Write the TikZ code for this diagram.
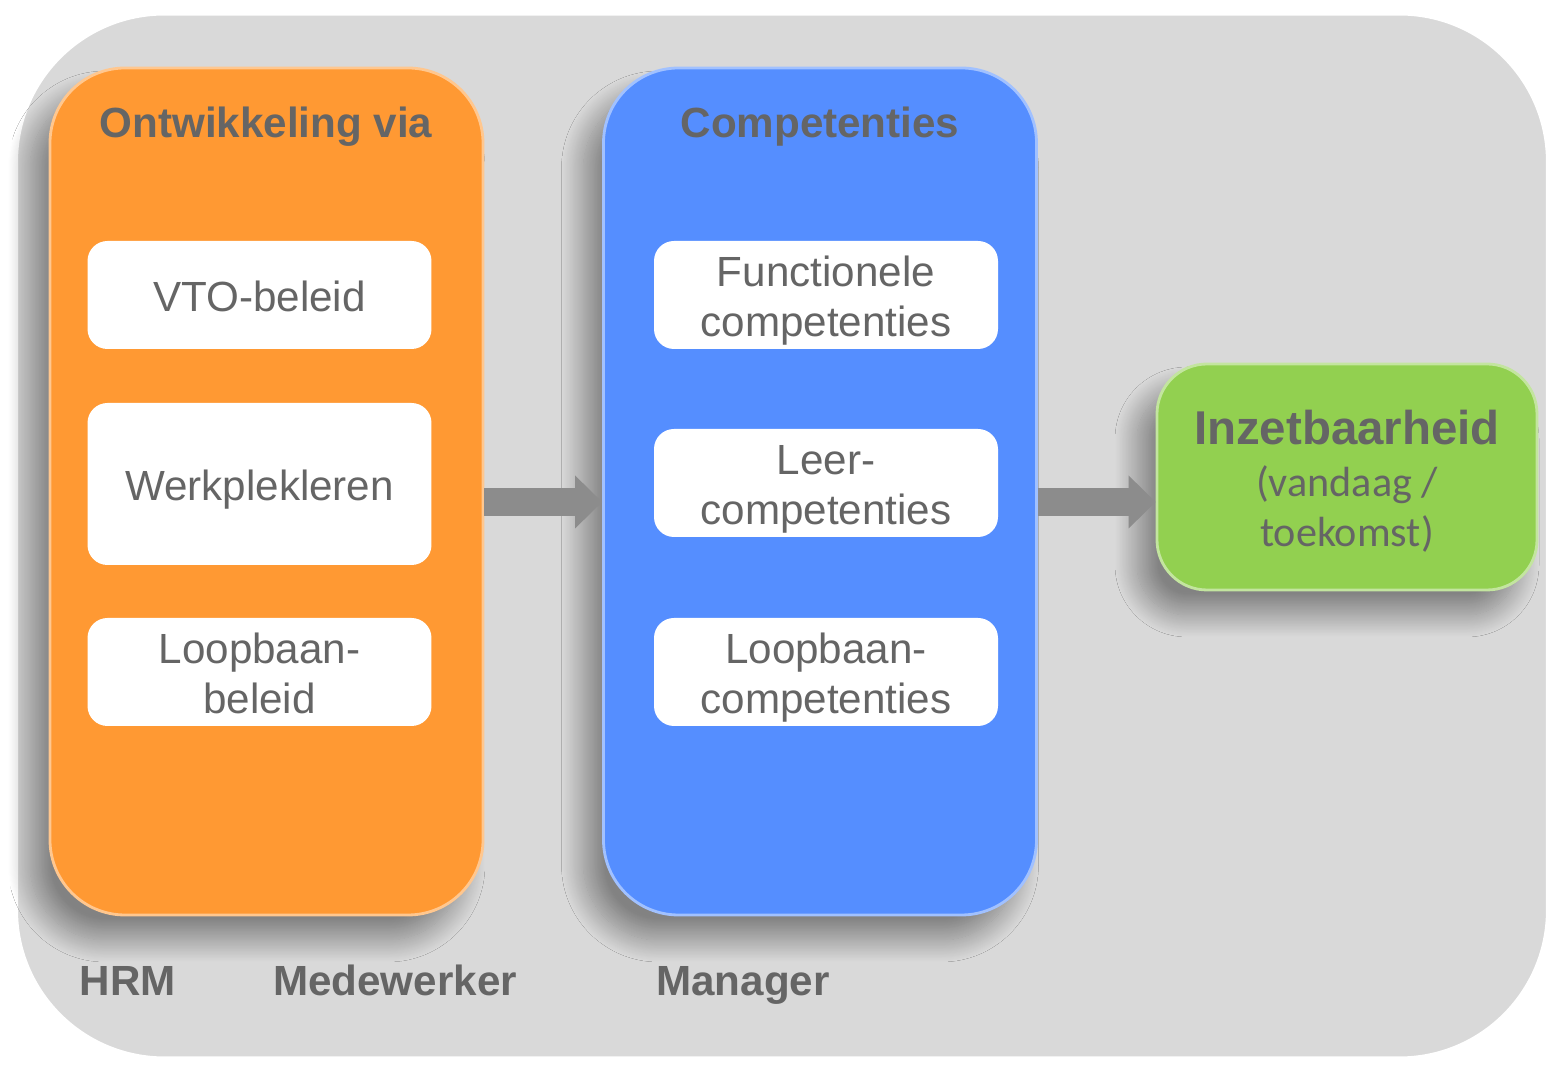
\documentclass[tikz,border=0pt]{standalone}
\usepackage{fontspec}
\setmainfont{Liberation Sans}
\newfontfamily\calibri{Carlito}
\usetikzlibrary{arrows.meta,shadows.blur}

\definecolor{txtgray}{HTML}{656565}
\definecolor{bggray}{HTML}{D9D9D9}
\definecolor{hrmorange}{HTML}{FF9933}
\definecolor{compblue}{HTML}{558EFF}
\definecolor{inzetgreen}{HTML}{92D050}
\definecolor{arrowgray}{HTML}{8C8C8C}

% struts that fix height and depth of the item text
\newcommand{\topst}{\rule{0pt}{11.8pt}}
\newcommand{\botst}{\rule[-2.6pt]{0pt}{2.6pt}}

\begin{document}
\begin{tikzpicture}[x=0.1mm, y=-0.1mm,
    font=\fontsize{12pt}{14.2pt}\selectfont, text=txtgray,
    softshadow/.style={blur shadow={shadow xshift=-2mm, shadow yshift=-2.5mm,
        shadow blur radius=2.2mm, shadow blur steps=25, shadow opacity=40}},
    colbox/.style={rounded corners=7.5mm, minimum width=43.3mm,
        minimum height=84.7mm, fill=#1, draw=#1!55!white, line width=0.8pt, softshadow},
    itembox/.style={rounded corners=2mm, fill=white, minimum width=34.4mm,
        minimum height=10.8mm, align=center, inner sep=0pt},
    title/.style={anchor=base, font=\fontsize{12pt}{14pt}\selectfont\bfseries},
    blockarrow/.style={draw=arrowgray, line width=2.8mm,
        -{Triangle[width=5.3mm, length=2.7mm, line width=0pt]}}]

    \useasboundingbox (0,0) rectangle (1553,1065);

    % Background frame
    \node[rounded corners=15mm, fill=bggray, draw=white, line width=2pt,
        minimum width=153.5mm, minimum height=104.8mm] (frame) at (782,536) {};

    % Columns
    \node[colbox=hrmorange] (ontw) at (266.5,491.5) {};
    \node[colbox=compblue] (comp) at (820,491.5) {};
    \node[rounded corners=5mm, minimum width=38mm, minimum height=22.6mm,
        fill=inzetgreen, draw=inzetgreen!55!white, line width=0.8pt, softshadow,
        align=center, inner sep=0pt] (inzet) at (1347,477)
        {\rule{0pt}{12.1pt}{\fontsize{13.5pt}{16pt}\selectfont\bfseries Inzetbaarheid}\\[0.6pt]
         {\calibri (vandaag /}\\{\calibri toekomst)}};

    % Titles
    \node[title] (ontwtitle) at (266,138) {Ontwikkeling via};
    \node[title] (comptitle) at (820,138) {Competenties};

    % HRM items
    \node[itembox] (vto) at (259.5,295) {\topst VTO-beleid\botst};
    \node[itembox, minimum height=16.2mm] (werk) at (259.5,484) {\topst Werkplekleren\botst};
    \node[itembox] (loopb) at (259.5,672) {\topst Loopbaan-\\beleid\botst};

    % Competentie items
    \node[itembox] (func) at (826,295) {\topst Functionele\\competenties\botst};
    \node[itembox] (leer) at (826,483) {\topst Leer-\\competenties\botst};
    \node[itembox] (loopc) at (826,672) {\topst Loopbaan-\\competenties\botst};

    % Arrows
    \draw[blockarrow] ([yshift=-1.05mm]ontw.east) -- ([yshift=-1.05mm]comp.west);
    \draw[blockarrow] ([yshift=-1.05mm]comp.east) -- ([yshift=-1.05mm]comp.east -| inzet.west);

    % Roles
    \node[title] (hrm) at (128,996) {HRM};
    \node[title] (medew) at (395,996) {Medewerker};
    \node[title] (mgr) at (743,996) {Manager};

\end{tikzpicture}
\end{document}
